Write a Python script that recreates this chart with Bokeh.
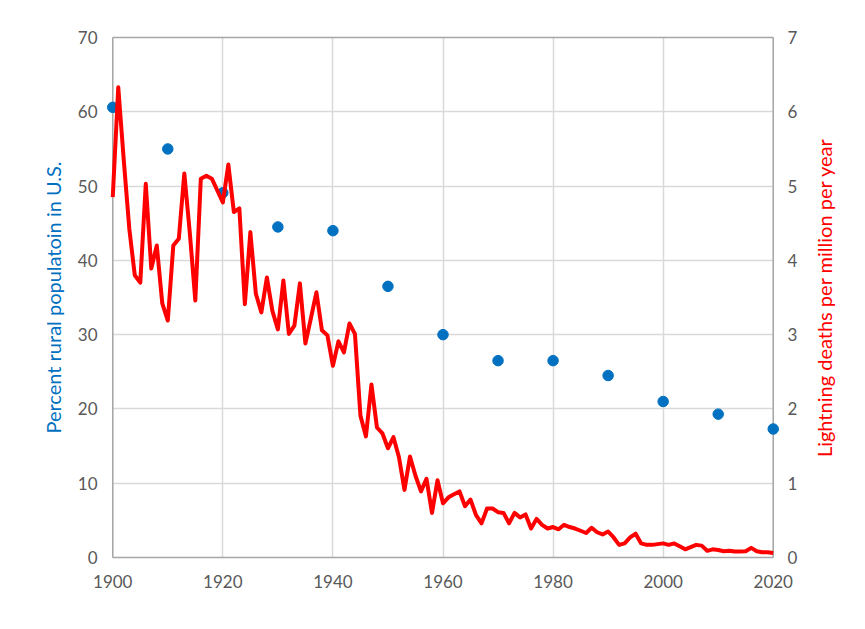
import math
from bokeh.plotting import figure
from bokeh.layouts import row
from bokeh.models import Range1d, LinearAxis, FixedTicker, BoxAnnotation, Span
from bokeh.core.properties import value
from bokeh.embed import file_html
from bokeh.resources import INLINE

census_years = [1900, 1910, 1920, 1930, 1940, 1950, 1960, 1970, 1980, 1990, 2000, 2010, 2020]
rural_pct = [60.6, 55.0, 49.1, 44.5, 44.0, 36.5, 30.0, 26.5, 26.5, 24.5, 21.0, 19.3, 17.3]

years = list(range(1900, 2021))
deaths = [
    4.85, 6.33, 5.35, 4.43, 3.80, 3.70, 5.03, 3.89, 4.20, 3.42,
    3.19, 4.20, 4.29, 5.17, 4.37, 3.46, 5.10, 5.14, 5.10, 4.94,
    4.78, 5.29, 4.65, 4.70, 3.41, 4.38, 3.55, 3.30, 3.77, 3.32,
    3.07, 3.73, 3.01, 3.12, 3.69, 2.88, 3.22, 3.57, 3.06, 2.99,
    2.58, 2.91, 2.76, 3.15, 3.01, 1.91, 1.63, 2.33, 1.75, 1.67,
    1.47, 1.62, 1.35, 0.91, 1.36, 1.10, 0.89, 1.06, 0.60, 1.04,
    0.73, 0.81, 0.85, 0.89, 0.69, 0.78, 0.57, 0.46, 0.66, 0.66,
    0.61, 0.60, 0.46, 0.60, 0.54, 0.58, 0.39, 0.52, 0.44, 0.39,
    0.41, 0.38, 0.44, 0.41, 0.39, 0.36, 0.33, 0.40, 0.34, 0.31,
    0.35, 0.27, 0.17, 0.19, 0.27, 0.32, 0.19, 0.17, 0.17, 0.18,
    0.19, 0.17, 0.19, 0.15, 0.11, 0.14, 0.17, 0.16, 0.09, 0.11,
    0.10, 0.085, 0.09, 0.08, 0.08, 0.085, 0.13, 0.085, 0.07, 0.07,
    0.06,
]

x_ticks = [1900, 1920, 1940, 1960, 1980, 2000, 2020]
left_ticks = [0, 10, 20, 30, 40, 50, 60, 70]
right_ticks = [0, 1, 2, 3, 4, 5, 6, 7]

left_label = "Percent rural populatoin in U.S."
right_label = "Lightning deaths per million per year"

FONT = "Lato"
TICK_COLOR = "#595959"
AXIS_COLOR = "#a6a6a6"
GRID_COLOR = "#d9d9d9"
BLUE = "#0070c0"
RED = "#ff0000"

X_MIN, X_MAX = x_ticks[0], x_ticks[-1]
PAD = 1.5  # years of padding so edge markers are not clipped
TOP, FRAME_H, BOTTOM = 37, 520, 62

p = figure(
    frame_width=677, frame_height=FRAME_H,
    x_range=Range1d(X_MIN - PAD, X_MAX + PAD), y_range=Range1d(left_ticks[0], left_ticks[-1]),
    output_backend="svg", toolbar_location=None,
    min_border_left=104, min_border_right=19,
    min_border_top=TOP, min_border_bottom=BOTTOM,
)
p.extra_y_ranges = {"deaths": Range1d(right_ticks[0], right_ticks[-1])}

bottom_axis = p.below[0]
left_axis = p.left[0]

p.outline_line_color = None
p.background_fill_color = "white"
p.border_fill_color = "white"

p.xgrid.ticker = FixedTicker(ticks=x_ticks)
p.ygrid.ticker = FixedTicker(ticks=left_ticks)
p.xgrid.grid_line_color = GRID_COLOR
p.ygrid.grid_line_color = GRID_COLOR
p.xgrid.grid_line_width = 1.5
p.ygrid.grid_line_width = 1.5

# hide horizontal grid beyond the axis lines
for lo, hi in [(X_MIN - PAD, X_MIN), (X_MAX, X_MAX + PAD)]:
    p.add_layout(BoxAnnotation(left=lo, right=hi, fill_color="white", fill_alpha=1,
                               line_alpha=0, level="underlay"))

# vertical axis lines at the first and last year
for loc in (X_MIN, X_MAX):
    p.add_layout(Span(location=loc, dimension="height", line_color=AXIS_COLOR,
                      line_width=1.5, level="underlay"))

right_axis = LinearAxis(y_range_name="deaths")
p.add_layout(right_axis, "right")

top_axis = LinearAxis(ticker=FixedTicker(ticks=[]), bounds=(X_MIN, X_MAX))
p.add_layout(top_axis, "above")
top_axis.axis_line_color = AXIS_COLOR
top_axis.axis_line_width = 1.5
top_axis.major_label_text_font_size = "0px"
top_axis.major_tick_line_color = None
top_axis.minor_tick_line_color = None

bottom_axis.ticker = FixedTicker(ticks=x_ticks)
bottom_axis.bounds = (X_MIN, X_MAX)
left_axis.ticker = FixedTicker(ticks=left_ticks)
right_axis.ticker = FixedTicker(ticks=right_ticks)

for ax in [bottom_axis, left_axis, right_axis]:
    ax.axis_line_color = AXIS_COLOR
    ax.axis_line_width = 1.5
    ax.major_tick_line_color = None
    ax.minor_tick_line_color = None
    ax.major_tick_out = 0
    ax.major_tick_in = 0
    ax.major_label_text_font = FONT
    ax.major_label_text_font_size = "17px"
    ax.major_label_text_color = TICK_COLOR
    ax.axis_label_text_font = FONT
    ax.axis_label_text_font_style = "normal"
    ax.axis_label_text_font_size = "20px"

left_axis.axis_line_color = None
right_axis.axis_line_color = None

bottom_axis.major_label_standoff = 17
left_axis.major_label_standoff = 7
right_axis.major_label_standoff = 6

left_axis.axis_label = left_label
left_axis.axis_label_text_color = BLUE
left_axis.axis_label_standoff = 10

p.scatter(census_years, rural_pct, size=10.5, color=BLUE, line_color=BLUE)
p.line(years, deaths, y_range_name="deaths", line_color=RED, line_width=4,
       line_join="round")

# narrow companion panel holding the right-hand title, read bottom-to-top
q = figure(
    frame_width=46, frame_height=FRAME_H,
    x_range=Range1d(0, 1), y_range=Range1d(right_ticks[0], right_ticks[-1]),
    output_backend="svg", toolbar_location=None,
    min_border_left=0, min_border_right=0,
    min_border_top=TOP, min_border_bottom=BOTTOM,
)
q.axis.visible = False
q.grid.visible = False
q.outline_line_color = None
q.background_fill_color = "white"
q.border_fill_color = "white"
q.text(x=[0.5], y=[(right_ticks[0] + right_ticks[-1]) / 2], text=[right_label],
       angle=math.pi / 2, text_align="center", text_baseline="middle",
       text_font=value(FONT), text_font_size="20px", text_color=RED)

layout = row(p, q)
open("out.html", "w").write(file_html(layout, INLINE))
